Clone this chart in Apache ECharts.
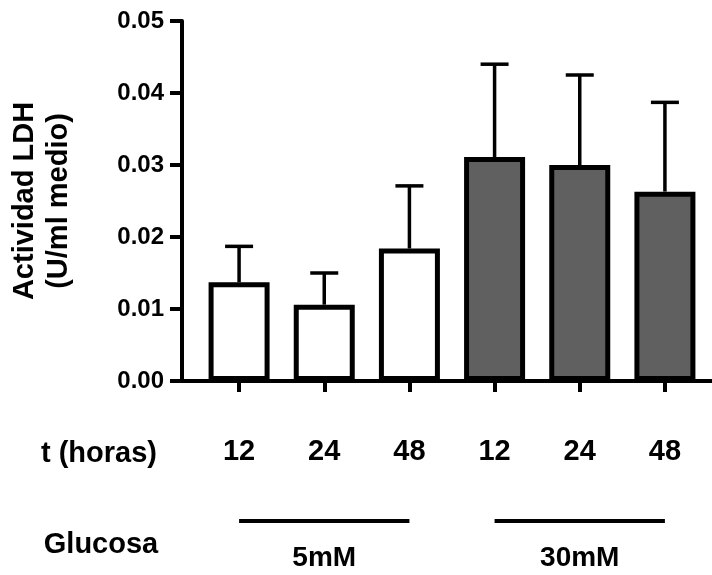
<!DOCTYPE html>
<html>
<head>
<meta charset="utf-8">
<script src="https://cdn.jsdelivr.net/npm/echarts@6/dist/echarts.min.js"></script>
<style>
  html, body { margin: 0; padding: 0; background: #fff; }
  #chart { width: 712px; height: 575px; }
</style>
</head>
<body>
<div id="chart"></div>
<script>
// data
const horas = ['12', '24', '48', '12', '24', '48'];
const glucosa = ['5mM', '5mM', '5mM', '30mM', '30mM', '30mM'];
const ldh = [0.0137, 0.0106, 0.0184, 0.0311, 0.0300, 0.0263];
const sd = [0.0050, 0.0044, 0.0087, 0.0129, 0.0125, 0.0124];
const yTicks = [0, 0.01, 0.02, 0.03, 0.04, 0.05];
const groups = ['5mM', '30mM'];

const FONT = '"Liberation Sans", Arial, sans-serif';
const fillFor = {'5mM': '#ffffff', '30mM': '#606060'};

const chart = echarts.init(document.getElementById('chart'), null, {renderer: 'canvas'});

let option = {
    animation: false,
    backgroundColor: '#fff',
    grid: [
        {left: 180.5, right: 0, top: 21, bottom: 194},
        {left: 196.5, right: 4.5, top: 21, bottom: 194}
    ],
    xAxis: [
        {
            gridIndex: 0, type: 'value', min: 0, max: 1,
            axisLine: {show: true, lineStyle: {color: '#000', width: 4}},
            axisTick: {show: false}, axisLabel: {show: false}, splitLine: {show: false}
        },
        {
            gridIndex: 1, type: 'category', data: horas,
            axisLine: {show: false},
            axisTick: {show: true, alignWithLabel: true, length: 11, lineStyle: {color: '#000', width: 4}},
            axisLabel: {color: '#000', fontFamily: FONT, fontWeight: 'bold', fontSize: 29, margin: 56},
            splitLine: {show: false}
        }
    ],
    yAxis: [
        {
            gridIndex: 0, type: 'value',
            min: yTicks[0], max: yTicks[yTicks.length - 1], interval: 0.01,
            axisLine: {show: true, lineStyle: {color: '#000', width: 4}},
            axisTick: {show: true, length: 12, lineStyle: {color: '#000', width: 4}},
            axisLabel: {
                color: '#000', fontFamily: FONT, fontWeight: 'bold', fontSize: 24, margin: 18,
                formatter: v => v.toFixed(2)
            },
            splitLine: {show: false},
            name: 'Actividad LDH\n(U/ml medio)',
            nameLocation: 'middle',
            nameRotate: 90,
            nameGap: 106,
            nameTextStyle: {color: '#000', fontFamily: FONT, fontWeight: 'bold', fontSize: 29, lineHeight: 34}
        },
        {
            gridIndex: 1, type: 'value', show: false,
            min: yTicks[0], max: yTicks[yTicks.length - 1]
        }
    ],
    series: [
        {
            type: 'bar',
            xAxisIndex: 1, yAxisIndex: 1,
            barWidth: 61,
            data: ldh.map((v, i) => ({
                value: v,
                itemStyle: {color: fillFor[glucosa[i]], borderColor: '#000', borderWidth: 5}
            })),
            z: 2
        },
        {
            type: 'custom',
            xAxisIndex: 1, yAxisIndex: 1,
            data: ldh.map((v, i) => [i, v, v + sd[i]]),
            renderItem: function (params, api) {
                const base = api.coord([api.value(0), api.value(1)]);
                const top = api.coord([api.value(0), api.value(2)]);
                const half = 14;
                const style = {stroke: '#000', lineWidth: 3.5};
                return {
                    type: 'group',
                    children: [
                        {type: 'line', shape: {x1: base[0], y1: base[1], x2: top[0], y2: top[1]}, style: style},
                        {type: 'line', shape: {x1: top[0] - half, y1: top[1], x2: top[0] + half, y2: top[1]}, style: style}
                    ]
                };
            },
            z: 1
        }
    ]
};

chart.setOption(option);

// group bars + labels under the category axis, placed from the axis scale
const gfx = [
    {type: 'text', x: 99, y: 454, style: {text: 't (horas)', fill: '#000', font: 'bold 29px ' + FONT, textAlign: 'center', textVerticalAlign: 'middle'}},
    {type: 'text', x: 101, y: 545, style: {text: 'Glucosa', fill: '#000', font: 'bold 29px ' + FONT, textAlign: 'center', textVerticalAlign: 'middle'}}
];
groups.forEach(g => {
    const idx = glucosa.map((v, i) => v === g ? i : -1).filter(i => i >= 0);
    const x0 = chart.convertToPixel({xAxisIndex: 1}, idx[0]);
    const x1 = chart.convertToPixel({xAxisIndex: 1}, idx[idx.length - 1]);
    gfx.push({type: 'line', shape: {x1: x0, y1: 521, x2: x1, y2: 521}, style: {stroke: '#000', lineWidth: 4}});
    gfx.push({type: 'text', x: (x0 + x1) / 2, y: 558, style: {text: g, fill: '#000', font: 'bold 28px ' + FONT, textAlign: 'center', textVerticalAlign: 'middle'}});
});
chart.setOption({graphic: gfx});
</script>
</body>
</html>
